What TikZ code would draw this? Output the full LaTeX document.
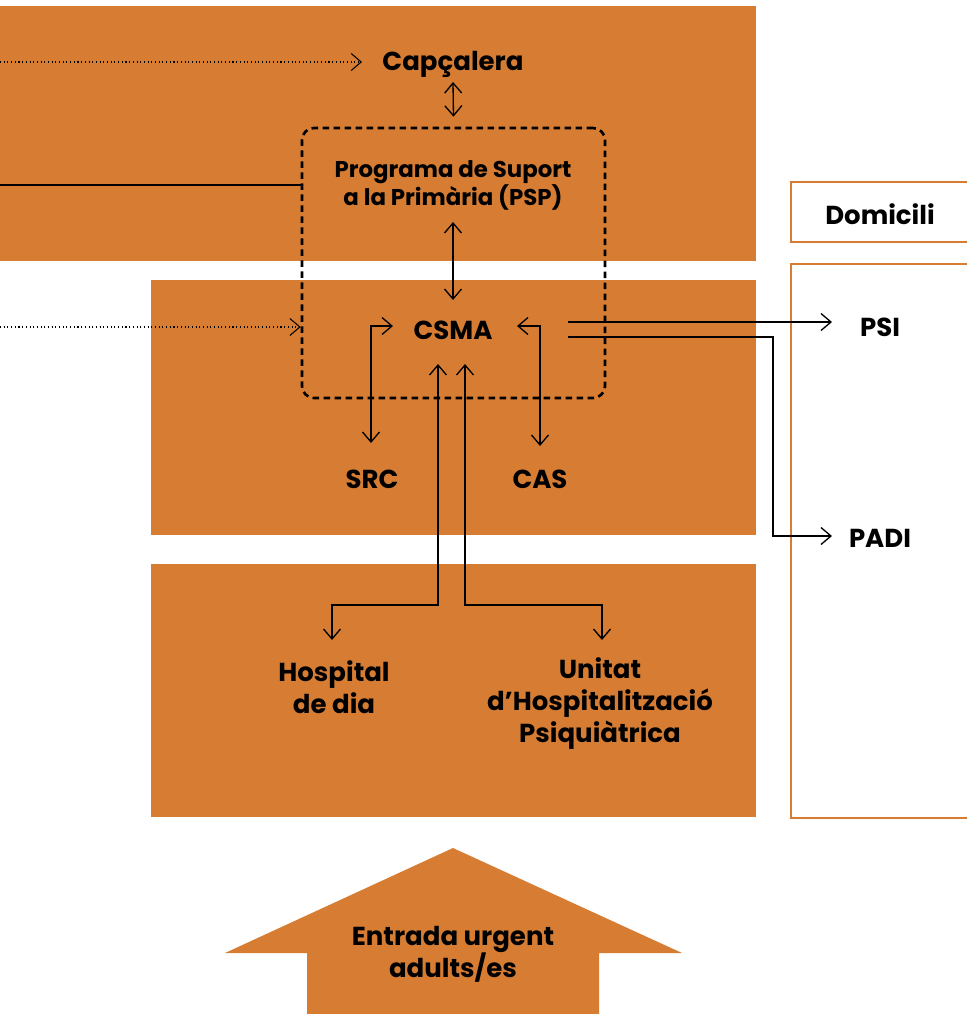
\documentclass[tikz,border=0pt]{standalone}
\usepackage{fontspec}
\setmainfont{Poppins}
\usetikzlibrary{arrows.meta, calc, positioning}
\definecolor{ambre}{RGB}{214,125,51}

\begin{document}
\begin{tikzpicture}[x=0.2mm, y=-0.2mm, >={Straight Barb[length=2mm, width=3.4mm]},
    lbl/.style={font=\bfseries\fontsize{14.8}{18.2}\selectfont, align=center, inner sep=0pt},
    small/.style={font=\bfseries\fontsize{13}{15.9}\selectfont, align=center, inner sep=0pt},
    link/.style={line width=0.75pt},
    hint/.style={line width=0.6pt, dash pattern=on 0.6pt off 1.5pt},
    frame/.style={draw=ambre, line width=1.2pt},
    dashbox/.style={draw, line width=1.5pt, dash pattern=on 1.3mm off 0.9mm, rounded corners=2.4mm, inner sep=0pt}]
    \useasboundingbox (0,0) rectangle (967,1014);

    % Panels
    \fill [ambre] (0,6) rectangle (756,261);
    \fill [ambre] (151,280) rectangle (756,535);
    \fill [ambre] (151,564) rectangle (756,817);

    % Right frames (open to the right)
    \draw [frame] (975,182) -| (791,242) -- (975,242);
    \draw [frame] (975,264) -| (791,818) -- (975,818);

    % Entry arrow
    \fill [ambre] (307,1014) -- (307,953) -- (225,953) -- (453,848) -- (682,953) -- (599,953) -- (599,1014) -- cycle;

    % Dashed PSP box
    \node [dashbox, minimum width=60.6mm, minimum height=54mm] (pspbox) at (453.5,263) {};

    % Labels
    \node [lbl] (capcalera) at (453,64) {Capçalera};
    \node [small] (psp) at (453,185) {Programa de Suport\\a la Primària (PSP)};
    \node [lbl] (csma) at (453,330) {CSMA};
    \node [lbl] (src) at (372,479) {SRC};
    \node [lbl] (cas) at (540,479) {CAS};
    \node [lbl] (hospital) at (334,687) {Hospital\\de dia};
    \node [lbl] (uhp) at (600,704) {Unitat\\d’Hospitalització\\Psiquiàtrica};
    \node [lbl] (domicili) at (880,214) {Domicili};
    \node [lbl] (psi) at (880,327) {PSI};
    \node [lbl] (padi) at (880,538) {PADI};
    \node [lbl] (entrada) at (453,954) {Entrada urgent\\adults/es};

    % Free ends on the left edge
    \coordinate (from-cap) at (0,62);
    \coordinate (from-psp) at (0,185);
    \coordinate (from-csma) at (0,327);
    \coordinate (split) at (453,605);

    % Connectors into the top block
    \draw [hint, ->] (from-cap) -- (from-cap -| {$(capcalera)+(-91,0)$});
    \draw [link, <->] ($(capcalera)+(0,18)$) -- ($(pspbox.north)+(0,-10)$);
    \draw [link] (from-psp) -- (from-psp -| pspbox.west);
    \draw [hint, ->] (from-csma) -- (from-csma -| pspbox.west);
    \draw [link, <->] ($(psp)+(0,37)$) -- ($(csma)+(0,-30)$);

    % CSMA to SRC and CAS
    \draw [link, <->] ($(csma)+(-60,-4)$) -| ($(src)+(-1,-36)$);
    \draw [link, <->] ($(csma)+(64,-4)$) -| ($(cas)+(0,-33)$);

    % CSMA to hospital units
    \draw [link, <->] ($(csma)+(-15,34)$) coordinate (h-up) -- (h-up |- split) -| ($(hospital)+(-2,-47)$);
    \draw [link, <->] ($(csma)+(12,34)$) coordinate (u-up) -- (u-up |- split) -| ($(uhp)+(2,-64)$);

    % CSMA to home programmes
    \draw [link, ->] ($(csma)+(115,-8)$) -- ($(psi)+(-48,-5)$);
    \draw [link, ->] ($(csma)+(115,7)$) -| ($(padi)+(-107,-2)$) -- ($(padi)+(-48,-2)$);

\end{tikzpicture}
\end{document}
